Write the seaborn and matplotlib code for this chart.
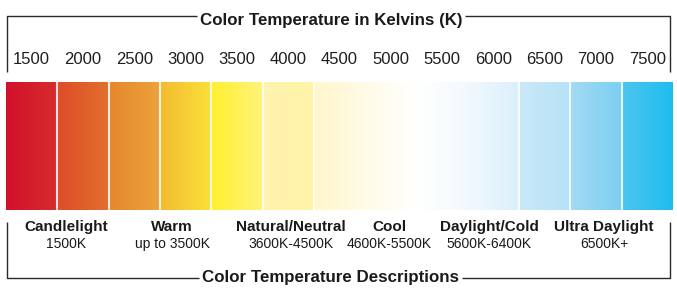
import numpy as np
import pandas as pd
import matplotlib
matplotlib.use("Agg")
import matplotlib.pyplot as plt
import seaborn as sns
from matplotlib.colors import LinearSegmentedColormap
from matplotlib.transforms import blended_transform_factory

# ---------------- data ----------------
kelvin_ticks = ["1500", "2000", "2500", "3000", "3500", "4000", "4500",
                "5000", "5500", "6000", "6500", "7000", "7500"]
band_left_colors = ["#D2102D", "#DE4C28", "#E5872E", "#F3BA30", "#FFEF2E",
                    "#FFF4B0", "#FFF6CA", "#FFFBE8", "#FFFFFF", "#F2F9FE",
                    "#C9E9F8", "#A3DBF5", "#4EC5F0"]
band_right_colors = ["#D82C2C", "#E2702E", "#ECA33A", "#FCE03A", "#FFF47C",
                     "#FFF3A6", "#FFFBE8", "#FFFFFF", "#F2F9FE", "#DAEFFB",
                     "#B5E2F7", "#7BCEF2", "#1EBDEE"]
desc_names = ["Candlelight", "Warm", "Natural/Neutral", "Cool",
              "Daylight/Cold", "Ultra Daylight"]
desc_ranges = ["1500K", "up to 3500K", "3600K-4500K", "4600K-5500K",
               "5600K-6400K", "6500K+"]
top_title = "Color Temperature in Kelvins (K)"
bottom_title = "Color Temperature Descriptions"

# ---------------- layout ----------------
desc_x = [0.67, 2.74, 5.06, 6.97, 8.92, 11.16]   # in band-index units
no_separator_before = {7, 8, 9}                  # seamless near-white blend
W, H = 677, 296

sns.set_theme(style="white")
plt.rcParams['font.family'] = ['Liberation Sans', 'DejaVu Sans']

fig = plt.figure(figsize=(W / 100, H / 100), dpi=100)
fig.patch.set_facecolor("white")

# overlay axes in pixel coordinates
ov = fig.add_axes([0, 0, 1, 1], zorder=5)
ov.set_xlim(0, W)
ov.set_ylim(H, 0)
ov.axis("off")
ov.patch.set_alpha(0)

ax = fig.add_axes([6 / W, 1 - 210 / H, 667 / W, 128 / H])
df = pd.DataFrame({"kelvin": kelvin_ticks, "h": [1.0] * len(kelvin_ticks)})
sns.barplot(data=df, x="kelvin", y="h", hue="kelvin", palette=band_left_colors,
            width=1.0, legend=False, ax=ax, linewidth=0, edgecolor="none")

for i, (patch, c0, c1) in enumerate(zip(ax.patches, band_left_colors, band_right_colors)):
    x0, w, h = patch.get_x(), patch.get_width(), patch.get_height()
    cmap = LinearSegmentedColormap.from_list(f"b{i}", [c0, c1])
    im = ax.imshow(np.linspace(0, 1, 256)[None, :], cmap=cmap,
                   extent=(x0 - 0.01, x0 + w + 0.01, 0, h), aspect="auto",
                   interpolation="bilinear", zorder=2)
    if i > 0 and i not in no_separator_before:
        ax.axvline(x0, color="white", lw=1.5, alpha=0.85, zorder=3)

ax.set_xlim(-0.5, len(kelvin_ticks) - 0.5)
ax.set_ylim(0, 1)
ax.set_xlabel("")
ax.set_ylabel("")
ax.set_yticks([])
ax.xaxis.tick_top()
ax.tick_params(axis="x", length=0, pad=11, labelsize=12, labelcolor="#1e1e1e")
for s in ax.spines.values():
    s.set_visible(False)

# description labels
tr = blended_transform_factory(ax.transData, ov.transData)
for x, name, rng in zip(desc_x, desc_names, desc_ranges):
    ax.text(x, 231, name, transform=tr, ha="center", va="baseline",
            fontsize=11, fontweight="bold", color="#1a1a1a", clip_on=False)
    ax.text(x, 248, rng, transform=tr, ha="center", va="baseline",
            fontsize=10, color="#1a1a1a", clip_on=False)

# bracket titles
line_kw = dict(color="#2a2a2a", lw=1.0, solid_capstyle="butt")
t1 = ov.text(331, 25, top_title, ha="center", va="baseline", fontsize=12.2,
             fontweight="bold", color="#1a1a1a")
t2 = ov.text(330, 282, bottom_title, ha="center", va="baseline", fontsize=12.2,
             fontweight="bold", color="#1a1a1a")
fig.canvas.draw()
inv = ov.transData.inverted()
for t, yline, yend in [(t1, 16, 72), (t2, 278, 222)]:
    bb = t.get_window_extent(fig.canvas.get_renderer())
    xa = inv.transform((bb.x0, bb.y0))[0]
    xb = inv.transform((bb.x1, bb.y0))[0]
    ov.plot([7, 7, xa - 3], [yend, yline, yline], **line_kw)
    ov.plot([xb + 3, 670, 670], [yline, yline, yend], **line_kw)

fig.savefig("out.png", dpi=100, facecolor="white")
